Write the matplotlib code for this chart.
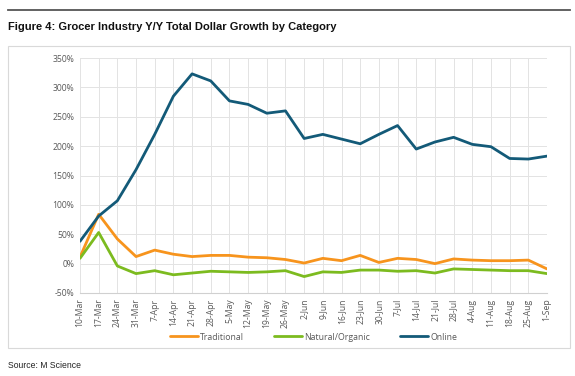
import matplotlib
matplotlib.use("Agg")
import matplotlib.pyplot as plt
from matplotlib.patches import Rectangle
from matplotlib.lines import Line2D

dates = ["10-Mar", "17-Mar", "24-Mar", "31-Mar", "7-Apr", "14-Apr", "21-Apr", "28-Apr",
         "5-May", "12-May", "19-May", "26-May", "2-Jun", "9-Jun", "16-Jun", "23-Jun",
         "30-Jun", "7-Jul", "14-Jul", "21-Jul", "28-Jul", "4-Aug", "11-Aug", "18-Aug",
         "25-Aug", "1-Sep"]
traditional = [11, 84, 42, 12, 23, 16, 12, 14, 14, 11, 10, 7, 1, 9, 5, 14, 2, 9, 7, 0,
               8, 6, 5, 5, 6, -9]
natural = [9, 53, -4, -17, -12, -19, -16, -13, -14, -15, -14, -12, -22, -14, -15, -11,
           -11, -13, -12, -16, -9, -10, -11, -12, -12, -17]
online = [38, 81, 107, 160, 220, 285, 323, 311, 277, 271, 256, 260, 213, 220, 212, 204,
          220, 235, 195, 207, 215, 203, 199, 179, 178, 183]
yticks = [-50, 0, 50, 100, 150, 200, 250, 300, 350]

W, H = 575, 376
fig = plt.figure(figsize=(W / 100, H / 100), dpi=100)
fig.patch.set_facecolor("white")

# top rule
fig.add_artist(Line2D([8 / W, 570 / W], [1 - 10 / H, 1 - 10 / H], color="#555555", lw=1.3))
# chart frame
fig.add_artist(Rectangle((8 / W, 1 - 348 / H), 562 / W, 302 / H, fill=False,
                         edgecolor="#d9d9d9", lw=0.8))

fig.text(8 / W, 1 - 27 / H, "Figure 4: Grocer Industry Y/Y Total Dollar Growth by Category",
         fontsize=8.0, fontweight="bold", family="Liberation Sans", va="center", ha="left",
         color="#111111")
fig.text(8 / W, 1 - 366 / H, "Source: M Science", fontsize=6.2, family="Liberation Sans",
         va="center", ha="left", color="#222222")

ax = fig.add_axes([80 / W, 1 - 293 / H, 467 / W, 235 / H])
x = list(range(len(dates)))
ax.plot(x, traditional, color="#F7941D", lw=2.0, label="Traditional", solid_capstyle="round")
ax.plot(x, natural, color="#7CBB1F", lw=2.0, label="Natural/Organic", solid_capstyle="round")
ax.plot(x, online, color="#135A78", lw=2.0, label="Online", solid_capstyle="round")

ax.set_xlim(0, len(dates) - 1)
ax.set_ylim(-50, 350)
ax.set_yticks(yticks)
ax.set_yticklabels([f"{v}%" for v in yticks])
ax.set_xticks(x)
ax.set_xticklabels(dates, rotation=90)
ax.grid(True, color="#e3e3e3", lw=0.7)
ax.set_axisbelow(True)
for s in ["top", "right", "left"]:
    ax.spines[s].set_visible(False)
ax.spines["bottom"].set_color("#d0d0d0")
ax.tick_params(axis="both", length=0, labelsize=6.2, labelcolor="#595959", pad=4)
for lab in ax.get_xticklabels() + ax.get_yticklabels():
    lab.set_family("Open Sans")

leg = ax.legend(loc="center", bbox_to_anchor=(0.5, (293 - 337) / 235), ncol=3,
                frameon=False, handlelength=3.2, handletextpad=0.2,
                columnspacing=3.5, prop={"family": "Open Sans", "size": 6.3})
for t in leg.get_texts():
    t.set_color("#595959")

fig.savefig("out.png", dpi=100)
